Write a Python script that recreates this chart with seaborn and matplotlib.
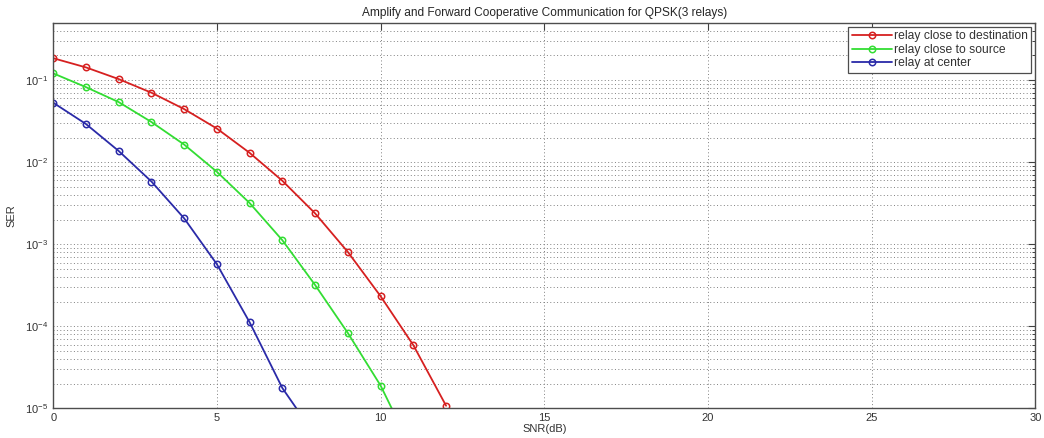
import numpy as np
import pandas as pd
import matplotlib
matplotlib.use("Agg")
import matplotlib.pyplot as plt
import seaborn as sns
from matplotlib.ticker import LogLocator, FixedLocator

# SER vs SNR for amplify-and-forward with three relays
snr_dest = [0, 1, 2, 3, 4, 5, 6, 7, 8, 9, 10, 11, 12]
ser_dest = [0.185, 0.143, 0.103, 0.0703, 0.0444, 0.0257, 0.0130, 0.00594,
            0.00238, 8.06e-4, 2.33e-4, 5.9e-5, 1.08e-5]

snr_source = [0, 1, 2, 3, 4, 5, 6, 7, 8, 9, 10, 11]
ser_source = [0.121, 0.0822, 0.054, 0.0309, 0.0164, 0.00764, 0.00318, 0.00112,
              3.19e-4, 8.3e-5, 1.9e-5, 2.9e-6]

snr_center = [0, 1, 2, 3, 4, 5, 6, 7, 8]
ser_center = [0.0531, 0.0292, 0.0137, 0.00582, 0.00207, 5.71e-4, 1.12e-4,
              1.77e-5, 4.7e-6]

labels = ["relay close to destination", "relay close to source", "relay at center"]
colors = ["#d62020", "#33dd33", "#2a2aa8"]

title = "Amplify and Forward Cooperative Communication for QPSK(3 relays)"
x_label = "SNR(dB)"
y_label = "SER"
x_ticks = [0, 5, 10, 15, 20, 25, 30]

sns.set_theme(style="white")
plt.rcParams["font.family"] = ["Liberation Sans", "DejaVu Sans"]
plt.rcParams["mathtext.fontset"] = "custom"
plt.rcParams["mathtext.rm"] = "Liberation Sans"

fig = plt.figure(figsize=(10.44, 4.38), dpi=100)
ax = fig.add_axes([0.051, 0.0674, 0.9407, 0.8806])
ax.set_yscale("log")

series = [(snr_dest, ser_dest), (snr_source, ser_source), (snr_center, ser_center)]
for (x, y), lab, c in zip(series, labels, colors):
    df = pd.DataFrame({"SNR": x, "SER": y})
    sns.lineplot(data=df, x="SNR", y="SER", ax=ax, color=c, lw=1.3,
                 marker="o", markersize=4.6, markerfacecolor="none",
                 markeredgecolor=c, markeredgewidth=1.1, label=lab,
                 legend=False)

ax.set_xlim(0, 30)
ax.set_ylim(1e-5, 0.5)
ax.xaxis.set_major_locator(FixedLocator(x_ticks))
ax.yaxis.set_major_locator(LogLocator(base=10, numticks=10))
ax.yaxis.set_minor_locator(LogLocator(base=10, subs=np.arange(2, 10), numticks=10))

grid_kw = dict(ls=(0, (1, 2.5)), color="0.5", lw=0.7)
ax.grid(True, which="major", axis="x", **grid_kw)
ax.grid(True, which="both", axis="y", **grid_kw)

ax.tick_params(which="both", direction="in", top=True, right=True,
               colors="0.25", labelcolor="0.2", labelsize=8)
ax.tick_params(which="major", length=5, width=0.8)
ax.tick_params(which="minor", length=2.5, width=0.7)
ax.tick_params(axis="x", pad=3)
for s in ax.spines.values():
    s.set_color("0.3")
    s.set_linewidth(1.0)

ax.set_title(title, fontsize=8.6, color="0.15", pad=5)
ax.set_xlabel(x_label, fontsize=8, color="0.2", labelpad=1)
ax.set_ylabel(y_label, fontsize=8, color="0.2", labelpad=6)

leg = ax.legend(loc="upper right", bbox_to_anchor=(0.9956, 0.9896),
                borderaxespad=0, fontsize=8.7, frameon=True, fancybox=False,
                framealpha=1, edgecolor="0.3", handlelength=3.3,
                handletextpad=0.15, labelspacing=0.12, borderpad=0.3)
leg.get_frame().set_linewidth(0.9)
for t in leg.get_texts():
    t.set_color("0.2")

fig.savefig("out.png", dpi=100)
